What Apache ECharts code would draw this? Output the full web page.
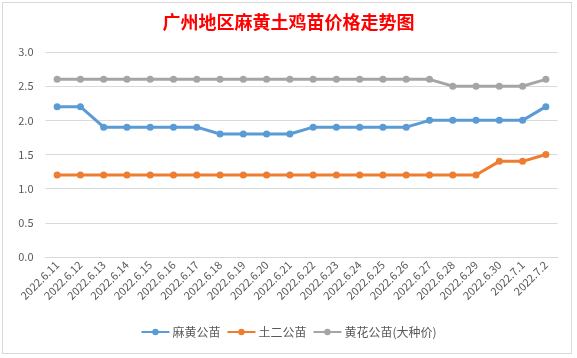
<!DOCTYPE html>
<html><head><meta charset="utf-8">
<script src="https://cdn.jsdelivr.net/npm/echarts@6/dist/echarts.min.js"></script>
<style>html,body{margin:0;padding:0;background:#fff;}#frame{position:absolute;left:2px;top:2px;width:570px;height:352px;border:1px solid #d9d9d9;box-sizing:border-box;}#c{position:absolute;left:0;top:0;width:577px;height:358px;}</style>
</head><body><div id="frame"></div><div id="c"></div>
<script>
const categories = ['2022.6.11','2022.6.12','2022.6.13','2022.6.14','2022.6.15','2022.6.16','2022.6.17','2022.6.18','2022.6.19','2022.6.20','2022.6.21','2022.6.22','2022.6.23','2022.6.24','2022.6.25','2022.6.26','2022.6.27','2022.6.28','2022.6.29','2022.6.30','2022.7.1','2022.7.2'];
const mahuang = [2.2,2.2,1.9,1.9,1.9,1.9,1.9,1.8,1.8,1.8,1.8,1.9,1.9,1.9,1.9,1.9,2.0,2.0,2.0,2.0,2.0,2.2];
const tuer = [1.2,1.2,1.2,1.2,1.2,1.2,1.2,1.2,1.2,1.2,1.2,1.2,1.2,1.2,1.2,1.2,1.2,1.2,1.2,1.4,1.4,1.5];
const huanghua = [2.6,2.6,2.6,2.6,2.6,2.6,2.6,2.6,2.6,2.6,2.6,2.6,2.6,2.6,2.6,2.6,2.6,2.5,2.5,2.5,2.5,2.6];
const seriesNames = ['麻黄公苗','土二公苗','黄花公苗(大种价)'];
const colors = ['#5B9BD5','#ED7D31','#A5A5A5'];
const chart = echarts.init(document.getElementById('c'));
const font = 'Microsoft YaHei, "Noto Sans CJK SC", sans-serif';
function mk(name, data, color){
  return {name, type:'line', data, symbol:'circle', symbolSize:7, showSymbol:true,
    itemStyle:{color}, lineStyle:{color, width:3}};
}
chart.setOption({
  animation:false,
  title:{text:'广州地区麻黄土鸡苗价格走势图', left:'center', top:8,
    textStyle:{color:'#FF0000', fontSize:18, fontWeight:'bold', fontFamily:'"Noto Sans CJK SC", serif'}},
  grid:{left:45.5, right:19.5, top:52, bottom:101, containLabel:false},
  legend:{bottom:15, left:'center', itemWidth:28, itemHeight:8, itemGap:6,
    textStyle:{color:'#595959', fontSize:12, fontFamily:font, padding:[0,0,0,-2]},
    data:seriesNames},
  xAxis:{type:'category', data:categories, boundaryGap:true,
    axisLine:{lineStyle:{color:'#D9D9D9'}}, axisTick:{show:false},
    axisLabel:{rotate:45, color:'#595959', fontSize:11, fontFamily:font, interval:0, margin:6}},
  yAxis:{type:'value', min:0, max:3, interval:0.5,
    axisLine:{show:false}, axisTick:{show:false},
    splitLine:{lineStyle:{color:'#D9D9D9'}},
    axisLabel:{color:'#595959', fontSize:11, fontFamily:font, formatter:v=>v.toFixed(1), margin:12}},
  series:[mk(seriesNames[0], mahuang, colors[0]), mk(seriesNames[1], tuer, colors[1]), mk(seriesNames[2], huanghua, colors[2])]
});
</script></body></html>
